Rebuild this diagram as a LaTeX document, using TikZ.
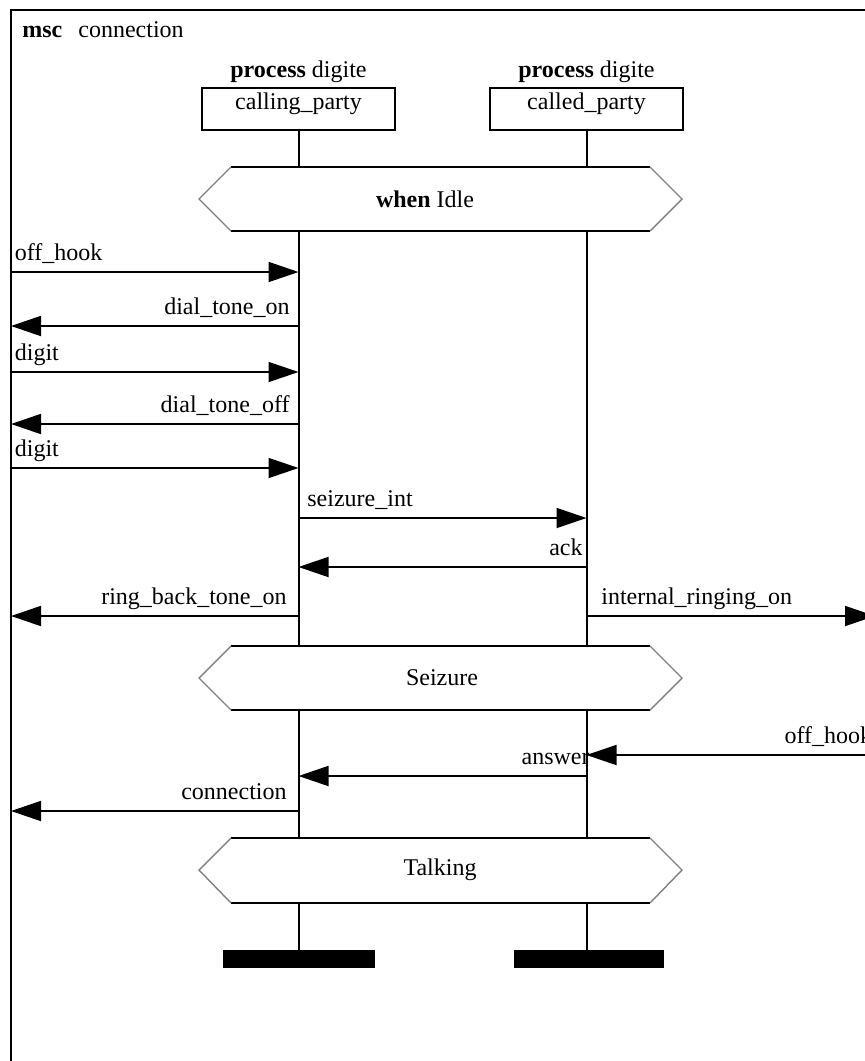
\documentclass[tikz,border=0pt]{standalone}
\usepackage{fontspec}
\setmainfont{Liberation Serif}
\usetikzlibrary{arrows.meta}

\tikzset{
  frame/.style={line width=0.9pt},
  lifeline/.style={line width=1pt},
  msg/.style={line width=0.9pt, -{Triangle[length=15pt,width=10pt]}},
  instbox/.style={draw, line width=1pt, minimum width=96.5pt, minimum height=21pt,
    text height=8.5pt, text depth=8.5pt, inner sep=0pt},
  stopbar/.style={fill=black, minimum width=76pt, minimum height=9pt, inner sep=0pt},
  condfill/.style={fill=white},
  condedge/.style={line width=1pt},
  condslant/.style={gray, line width=0.7pt},
  labr/.style={pos=0, anchor=base west, xshift=1.5pt, yshift=6pt, inner sep=0pt},
  labl/.style={pos=0, anchor=base east, xshift=-4pt, yshift=6pt, inner sep=0pt},
}

\begin{document}
\begin{tikzpicture}[x=0.5pt, y=-0.5pt, font=\fontsize{12}{14}\selectfont]
  \clip (0,0) rectangle (865,1061);
  % msc frame
  \draw[frame] (11,1080) -- (11,10) -- (875,10) -- (875,1080);
  \node[anchor=base west, inner sep=0pt] (title) at (22,37) {\textbf{msc}\hspace{8pt}connection};

  % instances
  \node[anchor=base] (kind1) at (298.5,77) {\textbf{process} digite};
  \node[instbox] (calling) at (298.5,109) {calling\_party};
  \node[anchor=base] (kind2) at (586.5,77) {\textbf{process} digite};
  \node[instbox] (called) at (586.5,109) {called\_party};
  \node[stopbar] (stop1) at (298.5,959) {};
  \node[stopbar, minimum width=75pt] (stop2) at (588.5,959) {};
  \draw[lifeline] (calling.south) -- (calling.south |- stop1.north);
  \draw[lifeline] (called.south) -- (called.south |- stop2.north);

  % conditions
  \filldraw[condfill, draw=none] (199,199) -- (231,167) -- (650,167) -- (682,199) -- (650,231) -- (231,231) -- cycle;
  \draw[condedge] (231,167) -- (650,167) (231,231) -- (650,231);
  \draw[condslant] (231,167) -- (199,199) -- (231,231) (650,167) -- (682,199) -- (650,231);
  \node (idle) at (425,199) {\textbf{when} Idle};

  \filldraw[condfill, draw=none] (199,678) -- (231,646) -- (650,646) -- (682,678) -- (650,710) -- (231,710) -- cycle;
  \draw[condedge] (231,646) -- (650,646) (231,710) -- (650,710);
  \draw[condslant] (231,646) -- (199,678) -- (231,710) (650,646) -- (682,678) -- (650,710);
  \node (seizure) at (442,678) {Seizure};

  \filldraw[condfill, draw=none] (199,870) -- (231,838) -- (650,838) -- (682,870) -- (650,903) -- (231,903) -- cycle;
  \draw[condedge] (231,838) -- (650,838) (231,903) -- (650,903);
  \draw[condslant] (231,838) -- (199,870) -- (231,903) (650,838) -- (682,870) -- (650,903);
  \node (talking) at (440,870) {Talking};

  % message ends
  \coordinate (e1) at (11,272);    \coordinate (a1) at (298.5,272);
  \coordinate (e2) at (11,326);    \coordinate (a2) at (298.5,326);
  \coordinate (e3) at (11,372);    \coordinate (a3) at (298.5,372);
  \coordinate (e4) at (11,424);    \coordinate (a4) at (298.5,424);
  \coordinate (e5) at (11,468);    \coordinate (a5) at (298.5,468);
  \coordinate (a6) at (298.5,518); \coordinate (b6) at (586.5,518);
  \coordinate (a7) at (298.5,567); \coordinate (b7) at (586.5,567);
  \coordinate (e8) at (11,616);    \coordinate (a8) at (298.5,616);
  \coordinate (b9) at (586.5,616); \coordinate (f9) at (875,616);
  \coordinate (f10) at (875,755);  \coordinate (b10) at (586.5,755);
  \coordinate (b11) at (586.5,776); \coordinate (a11) at (298.5,776);
  \coordinate (e12) at (11,811);   \coordinate (a12) at (298.5,811);

  % messages
  \draw[msg] (e1) -- (a1) node[labr] {off\_hook};
  \draw[msg] (a2) -- (e2) node[labl] {dial\_tone\_on};
  \draw[msg] (e3) -- (a3) node[labr] {digit};
  \draw[msg] (a4) -- (e4) node[labl] {dial\_tone\_off};
  \draw[msg] (e5) -- (a5) node[labr] {digit};
  \draw[msg] (a6) -- (b6) node[labr, xshift=2.5pt] {seizure\_int};
  \draw[msg] (b7) -- (a7) node[labl, xshift=2.5pt] {ack};
  \draw[msg] (a8) -- (e8) node[labl, xshift=-1.5pt] {ring\_back\_tone\_on};
  \draw[msg] (b9) -- (f9) node[labr, xshift=5.5pt] {internal\_ringing\_on};
  \draw[msg] (f10) -- (b10) node[labl, xshift=3pt] {off\_hook};
  \draw[msg] (b11) -- (a11) node[labl, xshift=6pt] {answer};
  \draw[msg] (a12) -- (e12) node[labl, xshift=-1.5pt] {connection};
\end{tikzpicture}
\end{document}
